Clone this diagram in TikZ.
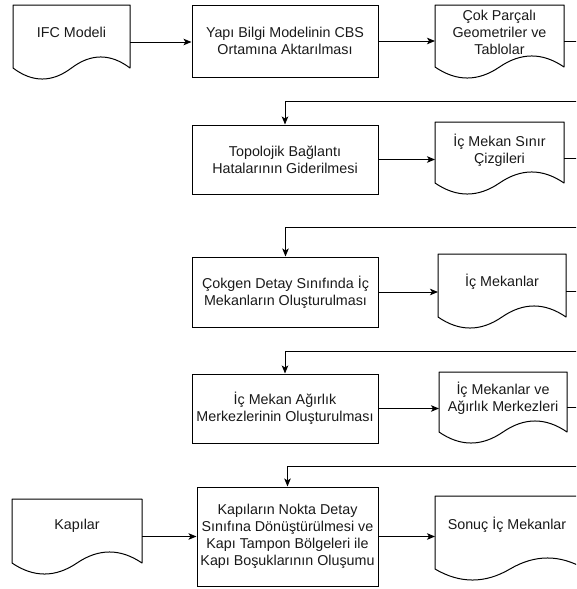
\documentclass[tikz,border=0pt]{standalone}
\usepackage{fontspec}
\setmainfont{Liberation Sans}
\usetikzlibrary{calc,arrows.meta}
\begin{document}
\begin{tikzpicture}[x=1pt,y=-1pt,
  txt/.style={font=\fontsize{14.3}{17.2}\selectfont, align=center, inner sep=0pt, text=black!90},
  box/.style={txt, draw, line width=1pt, minimum width=186pt},
  doc/.style={draw=none, inner sep=0pt, outer sep=0pt},
  docline/.style={line width=1pt, line join=round},
  arr/.style={line width=1pt, -{Stealth[length=8pt,width=6.5pt,inset=2pt]}},
  ln/.style={line width=1pt}]
\useasboundingbox (0,0) rectangle (576,589);
\clip (0,0) rectangle (576,589);

% process boxes
\node[box, minimum height=72pt] (b1) at (285,41) {Yapı Bilgi Modelinin CBS\\Ortamına Aktarılması};
\node[box, minimum height=69pt] (b2) at (285,159.5) {Topolojik Bağlantı\\Hatalarının Giderilmesi};
\node[box, minimum height=70pt] (b3) at (285.5,292) {Çokgen Detay Sınıfında İç\\Mekanların Oluşturulması};
\node[box, minimum height=69pt] (b4) at (285,408.5) {İç Mekan Ağırlık\\Merkezlerinin Oluşturulması};
\node[box, minimum width=181pt, minimum height=99pt] (b5) at (287.5,536.5) {Kapıların Nokta Detay\\Sınıfına Dönüştürülmesi ve\\Kapı Tampon Bölgeleri ile\\Kapı Boşuklarının Oluşumu};

% documents
\node[doc, minimum width=117pt, minimum height=74pt, label={[txt,name=d1t,yshift=10pt]center:IFC Modeli}] (d1) at (71.5,42) {};
\node[doc, minimum width=129pt, minimum height=73pt, label={[txt,name=d2t,yshift=9pt]center:Çok Parçalı\\Geometriler ve\\Tablolar}] (d2) at (499.5,41.5) {};
\node[doc, minimum width=129pt, minimum height=72pt, label={[txt,name=d3t,yshift=8pt]center:İç Mekan Sınır\\Çizgileri}] (d3) at (499.5,158) {};
\node[doc, minimum width=128pt, minimum height=74pt, label={[txt,name=d4t,yshift=9pt]center:İç Mekanlar}] (d4) at (502,291) {};
\node[doc, minimum width=128pt, minimum height=71pt, label={[txt,name=d5t,yshift=9.5pt]center:İç Mekanlar ve\\Ağırlık Merkezleri}] (d5) at (503,407.5) {};
\node[doc, minimum width=150pt, minimum height=84pt, label={[txt,name=d6t,yshift=13pt,xshift=-3pt]center:Sonuç İç Mekanlar}] (d6) at (510,538) {};
\node[doc, minimum width=130pt, minimum height=75pt, label={[txt,name=kpt,yshift=10.5pt]center:Kapılar}] (kp) at (77,536.5) {};

\foreach \n in {d1,d2,d3,d4,d5,d6,kp}{
  \draw[docline] ($(\n.south west)+(0,-11)$) -- (\n.north west) -- (\n.north east) -- ($(\n.south east)+(0,-11)$)
    .. controls ($(\n.south east)!1/6!(\n.south west)+(0,-25.7)$) and ($(\n.south east)!1/3!(\n.south west)+(0,-25.7)$) .. ($(\n.south)+(0,-11)$)
    .. controls ($(\n.south east)!2/3!(\n.south west)+(0,3.7)$) and ($(\n.south east)!5/6!(\n.south west)+(0,3.7)$) .. ($(\n.south west)+(0,-11)$) -- cycle;
}

% off-picture return points
\coordinate (r1) at (600,101);
\coordinate (r2) at (600,227);
\coordinate (r3) at (600,351);
\coordinate (r4) at (600,466);

% connectors
\draw[arr] (d1.east) -- (d1.east -| b1.west);
\draw[arr] (b1.east) -- (b1.east -| d2.west);
\draw[arr] (d2.east) -- (d2.east -| r1) -- (r1) -| (b2.north);
\draw[arr] (b2.east) -- (b2.east -| d3.west);
\draw[arr] (d3.east) -- (d3.east -| r2) -- (r2) -| (b3.north);
\draw[arr] (b3.east) -- (b3.east -| d4.west);
\draw[arr] (d4.east) -- (d4.east -| r3) -- (r3) -| (b4.north);
\draw[arr] (b4.east) -- (b4.east -| d5.west);
\draw[arr] (d5.east) -- (d5.east -| r4) -- (r4) -| (b5.north);
\draw[arr] (kp.east) -- (kp.east -| b5.west);
\draw[arr] (b5.east) -- (b5.east -| d6.west);
\end{tikzpicture}
\end{document}
